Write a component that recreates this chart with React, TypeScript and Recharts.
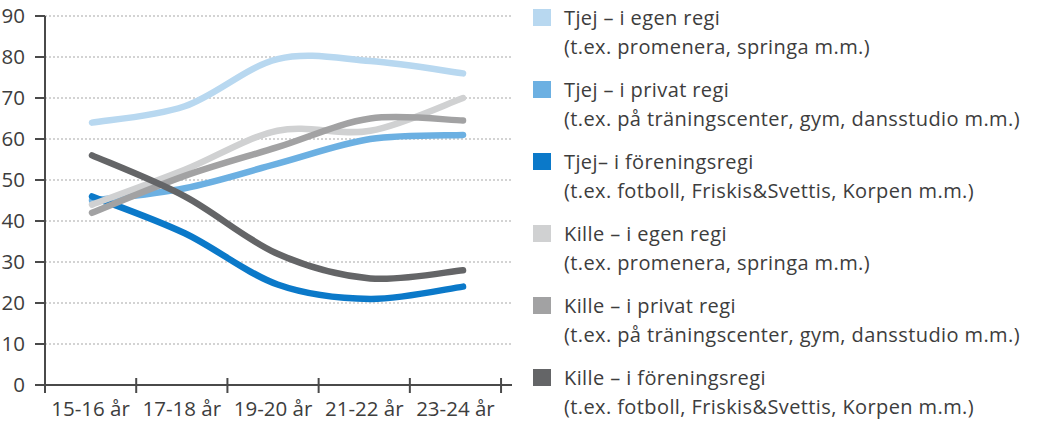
import { LineChart, Line, XAxis, YAxis, CartesianGrid } from 'recharts';

const ageGroups = ['15-16 år', '17-18 år', '19-20 år', '21-22 år', '23-24 år'];

const tjejEgen = [64, 68, 79.5, 79, 76];
const tjejPrivat = [45, 48, 54, 60, 61];
const tjejForening = [46, 37, 24.5, 21, 24];
const killeEgen = [44, 52.5, 62, 62, 70];
const killePrivat = [42, 51, 58, 65, 64.5];
const killeForening = [56, 46, 32, 26, 28];

const yTicks = [0, 10, 20, 30, 40, 50, 60, 70, 80, 90];
const xTicks = [0, 1, 2, 3, 4, 5];

const series = [
  { key: 'tjejEgen', values: tjejEgen, color: '#b8d8f0', title: 'Tjej – i egen regi', sub: '(t.ex. promenera, springa m.m.)' },
  { key: 'tjejPrivat', values: tjejPrivat, color: '#6cb0e2', title: 'Tjej – i privat regi', sub: '(t.ex. på träningscenter, gym, dansstudio m.m.)' },
  { key: 'tjejForening', values: tjejForening, color: '#0b79c9', title: 'Tjej– i föreningsregi', sub: '(t.ex. fotboll, Friskis&Svettis, Korpen m.m.)' },
  { key: 'killeEgen', values: killeEgen, color: '#d0d1d2', title: 'Kille – i egen regi', sub: '(t.ex. promenera, springa m.m.)' },
  { key: 'killePrivat', values: killePrivat, color: '#a2a2a3', title: 'Kille – i privat regi', sub: '(t.ex. på träningscenter, gym, dansstudio m.m.)' },
  { key: 'killeForening', values: killeForening, color: '#646567', title: 'Kille – i föreningsregi', sub: '(t.ex. fotboll, Friskis&Svettis, Korpen m.m.)' },
];

const data = ageGroups.map((age, i) => {
  const row: Record<string, number | string> = { age, idx: i };
  series.forEach(s => { row[s.key] = s.values[i]; });
  return row;
});

// Excel-like smoothed line (Catmull-Rom through every point)
function smoothCurve(context: any) {
  let pts: number[][] = [];
  return {
    areaStart() {},
    areaEnd() {},
    lineStart() { pts = []; },
    point(x: number, y: number) { pts.push([+x, +y]); },
    lineEnd() {
      const n = pts.length;
      if (!n) return;
      context.moveTo(pts[0][0], pts[0][1]);
      for (let i = 0; i < n - 1; i++) {
        const p0 = pts[Math.max(i - 1, 0)];
        const p1 = pts[i];
        const p2 = pts[i + 1];
        const p3 = pts[Math.min(i + 2, n - 1)];
        context.bezierCurveTo(
          p1[0] + (p2[0] - p0[0]) / 6, p1[1] + (p2[1] - p0[1]) / 6,
          p2[0] - (p3[0] - p1[0]) / 6, p2[1] - (p3[1] - p1[1]) / 6,
          p2[0], p2[1],
        );
      }
    },
  };
}

const FONT = '"Open Sans", Lato, sans-serif';
const TEXT = '#3d3d3d';
const AXIS = '#4a4a4a';

function XTick(props: any) {
  const { x, y, payload } = props;
  const label = ageGroups[payload.value];
  const half = 91.2 / 2;
  return (
    <g>
      <line x1={x} x2={x} y1={y - 7} y2={y + 8} stroke={AXIS} strokeWidth={2} />
      {label && (
        <text x={x + half} y={y + 31} textAnchor="middle" fill={TEXT} fontSize={20.5} fontFamily={FONT}>
          {label}
        </text>
      )}
    </g>
  );
}

export default function App() {
  return (
    <div style={{ position: 'absolute', left: 0, top: 0, width: 1041, height: 424, background: '#fff' }}>
      <LineChart width={520} height={424} data={data} margin={{ top: 16, right: 8, bottom: 0, left: 0 }}>
        <CartesianGrid horizontal vertical={false} stroke="#a8a8a8" strokeDasharray="2 2" strokeWidth={1.2} />
        <XAxis
          dataKey="idx"
          type="number"
          domain={[0, 5.12]}
          ticks={xTicks}
          interval={0}
          height={39}
          tickSize={0}
          tickMargin={0}
          tick={<XTick />}
          axisLine={{ stroke: AXIS, strokeWidth: 2 }}
          tickLine={false}
        />
        <XAxis xAxisId="pts" dataKey="idx" type="number" domain={[-0.507, 4.528]} hide />
        <YAxis
          domain={[0, 90]}
          ticks={yTicks}
          interval={0}
          width={45}
          tickSize={10}
          tickMargin={10}
          tick={{ fill: TEXT, fontSize: 20.5, fontFamily: FONT }}
          axisLine={{ stroke: AXIS, strokeWidth: 2 }}
          tickLine={{ stroke: AXIS, strokeWidth: 2 }}
        />
        {series.map(s => (
          <Line
            key={s.key}
            xAxisId="pts"
            dataKey={s.key}
            type={smoothCurve as any}
            stroke={s.color}
            strokeWidth={6.5}
            strokeLinecap="round"
            dot={false}
            activeDot={false}
            isAnimationActive={false}
          />
        ))}
      </LineChart>

      <div style={{ position: 'absolute', left: 533, top: 0, fontFamily: FONT, color: TEXT, fontSize: 20, letterSpacing: 0.4 }}>
        {series.map((s, i) => (
          <div key={s.key} style={{ position: 'absolute', left: 0, top: 3 + i * 72, whiteSpace: 'nowrap' }}>
            <div style={{ position: 'absolute', left: 0, top: 6, width: 18, height: 17, background: s.color }} />
            <div style={{ position: 'absolute', left: 31, top: 0, lineHeight: '29px' }}>
              <div>{s.title}</div>
              <div>{s.sub}</div>
            </div>
          </div>
        ))}
      </div>
    </div>
  );
}
